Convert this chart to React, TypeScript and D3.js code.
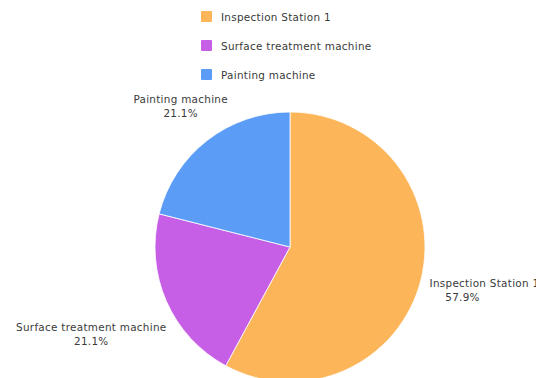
import React from "react";
import * as d3 from "d3";

const categories = ["Inspection Station 1", "Surface treatment machine", "Painting machine"];
const values = [11, 4, 4];
const colors = ["#FDB55A", "#C65FE6", "#5B9CF6"];

const W = 536;
const H = 378;

export default function App() {
  const cx = 290;
  const cy = 247;
  const r = 135;
  const total = d3.sum(values);
  const pie = d3.pie<number>().sort(null).value((d) => d).startAngle(0).endAngle(2 * Math.PI);
  const arcs = pie(values);
  const arc = d3.arc<d3.PieArcDatum<number>>().innerRadius(0).outerRadius(r);
  const labelDist = (i: number) => (i === 1 ? 217 : 178);

  return (
    <svg
      width={W}
      height={H}
      style={{ position: "absolute", left: 0, top: 0, fontFamily: "'DejaVu Sans', sans-serif" }}
    >
      <rect width={W} height={H} fill="#ffffff" />
      <g>
        {categories.map((c, i) => (
          <g key={c} transform={`translate(201, ${17 + i * 29})`}>
            <rect x={0} y={-6} width={11} height={11} rx={1} fill={colors[i]} />
            <text x={20} y={0} dy="0.35em" fontSize={10.4} letterSpacing={0.3} fill="#3a3a3a">
              {c}
            </text>
          </g>
        ))}
      </g>
      <g transform={`translate(${cx},${cy})`}>
        {arcs.map((a, i) => (
          <path key={i} d={arc(a) || ""} fill={colors[i]} stroke="#fff" strokeWidth={0.8} />
        ))}
        {arcs.map((a, i) => {
          const la = d3.arc<d3.PieArcDatum<number>>().innerRadius(labelDist(i)).outerRadius(labelDist(i));
          const [lx, ly] = la.centroid(a);
          const pct = ((values[i] / total) * 100).toFixed(1) + "%";
          const right = lx > 0;
          return (
            <g key={"l" + i} fontSize={10.4} letterSpacing={0.3} fill="#3a3a3a">
              <text
                x={right ? lx - 33 : lx}
                y={ly - 7}
                dy="0.35em"
                textAnchor={right ? "start" : "middle"}
              >
                {categories[i]}
              </text>
              <text x={lx} y={ly + 7} dy="0.35em" textAnchor="middle">
                {pct}
              </text>
            </g>
          );
        })}
      </g>
    </svg>
  );
}
